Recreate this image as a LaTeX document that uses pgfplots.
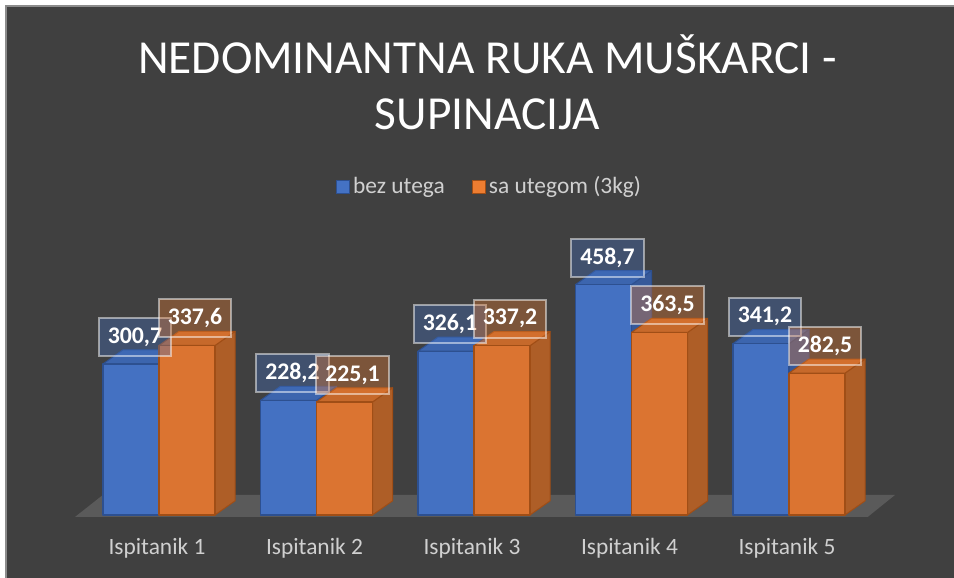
\documentclass[border=0pt]{standalone}
\usepackage{pgfplots}
\usepackage{pgfplotstable}
\pgfplotsset{compat=1.18}
\usepackage{fontspec}
\setmainfont{Carlito}
\definecolor{bg}{HTML}{404040}
\definecolor{framegray}{HTML}{8C8C8C}
\definecolor{floorgray}{HTML}{5A5A5A}
\definecolor{txtgray}{HTML}{D0D0D0}
\definecolor{Bfront}{HTML}{4471C2}
\definecolor{Bside}{HTML}{36599A}
\definecolor{Btop}{HTML}{3C65AE}
\definecolor{Bedge}{HTML}{2D5090}
\definecolor{Ofront}{HTML}{DB7431}
\definecolor{Oside}{HTML}{AE5E27}
\definecolor{Otop}{HTML}{C6692B}
\definecolor{Oedge}{HTML}{A04E16}
\definecolor{Blegend}{HTML}{4472C4}
\definecolor{Olegend}{HTML}{ED7D31}

\pgfplotstableread{
x bez sa
0 300.7 337.6
1 228.2 225.1
2 326.1 337.2
3 458.7 363.5
4 341.2 282.5
}\data

\def\bbw{0.356}
\def\bdx{0.127}
\def\bdy{28}

\newcommand\threedbar[3]{%
  \pgfmathsetmacro\xa{#1}%
  \pgfmathsetmacro\xb{#1+\bbw}%
  \pgfmathsetmacro\xc{#1+\bbw+\bdx}%
  \pgfmathsetmacro\xd{#1+\bdx}%
  \pgfmathsetmacro\vt{#2+\bdy}%
  \edef\doit{%
    \noexpand\addplot[forget plot, fill=#3side, draw=#3edge, line width=0.5pt, line join=round] coordinates {(\xb,0) (\xc,\bdy) (\xc,\vt) (\xb,#2)} -- cycle;
    \noexpand\addplot[forget plot, fill=#3top, draw=#3edge, line width=0.5pt, line join=round] coordinates {(\xa,#2) (\xd,\vt) (\xc,\vt) (\xb,#2)} -- cycle;
    \noexpand\addplot[forget plot, fill=#3front, draw=#3edge, line width=0.6pt, line join=round] coordinates {(\xa,0) (\xb,0) (\xb,#2) (\xa,#2)} -- cycle;
  }\doit
}

\begin{document}
\begin{tikzpicture}
\useasboundingbox (0,0) rectangle (477pt,289pt);
\fill[white] (0,0) rectangle (477pt,289pt);
\fill[bg] (3pt,0) rectangle (477pt,286pt);
\draw[framegray, line width=0.6pt] (3pt,-1pt) -- (3pt,286pt) -- (478pt,286pt);
\node[anchor=base, text=white, font=\fontsize{23.7}{28}\selectfont] at (243.75pt,252pt) {NEDOMINANTNA RUKA MUŠKARCI -};
\node[anchor=base, text=white, font=\fontsize{23.7}{28}\selectfont] at (243.75pt,224pt) {SUPINACIJA};
\begin{axis}[
  at={(32.25pt,21.5pt)}, anchor=south west,
  scale only axis, width=425.25pt, height=135.54pt,
  xmin=-0.6, xmax=4.8, ymin=-40, ymax=500,
  clip=false,
  axis line style={draw=none},
  ytick=\empty,
  xtick={0,1,2,3,4},
  xticklabels={Ispitanik 1,Ispitanik 2,Ispitanik 3,Ispitanik 4,Ispitanik 5},
  major tick length=0pt,
  xticklabel style={anchor=base, yshift=-10pt, xshift=-1pt, text=txtgray, font=\fontsize{11.7}{14}\selectfont},
  legend columns=2,
  legend style={at={(0.5003,1.284)}, anchor=center, draw=none, fill=none,
    text=txtgray, font=\fontsize{11.7}{14}\selectfont,
    nodes={inner xsep=1.5pt},
    /tikz/every even column/.append style={column sep=12pt}},
]
\addplot[forget plot, fill=floorgray, draw=none] coordinates {(-0.533,-4) (4.50,-4) (4.673,39.8) (-0.356,39.8)} -- cycle;

\pgfplotsforeachungrouped \i in {0,...,4}{%
  \pgfplotstablegetelem{\i}{bez}\of\data
  \let\vb\pgfplotsretval
  \pgfmathsetmacro\xl{\i-\bbw}%
  \threedbar{\xl}{\vb}{B}%
}
\pgfplotsforeachungrouped \i in {0,...,4}{%
  \pgfplotstablegetelem{\i}{sa}\of\data
  \let\vb\pgfplotsretval
  \pgfmathsetmacro\xl{\i}%
  \threedbar{\xl}{\vb}{O}%
}

\addplot[forget plot, draw=none, mark=none,
  nodes near coords={\pgfmathprintnumber[fixed,fixed zerofill,precision=1,use comma,assume math mode=true]{\pgfplotspointmeta}},
  point meta=y,
  every node near coord/.style={anchor=south, yshift=3.5pt, xshift=2pt,
    fill=Blegend, fill opacity=0.35, text opacity=1, draw=white, draw opacity=0.5,
    line width=1pt, text=white, inner xsep=4.5pt, inner ysep=2pt, minimum height=19pt,
    font=\bfseries\fontsize{11.9}{14}\selectfont}]
  table[x expr=\thisrow{x}-0.178, y=bez]{\data};
\addplot[forget plot, draw=none, mark=none,
  nodes near coords={\pgfmathprintnumber[fixed,fixed zerofill,precision=1,use comma,assume math mode=true]{\pgfplotspointmeta}},
  point meta=y,
  every node near coord/.style={anchor=south, yshift=3.5pt, xshift=4pt,
    fill=Olegend, fill opacity=0.35, text opacity=1, draw=white, draw opacity=0.5,
    line width=1pt, text=white, inner xsep=4.5pt, inner ysep=2pt, minimum height=19pt,
    font=\bfseries\fontsize{11.9}{14}\selectfont}]
  table[x expr=\thisrow{x}+0.178, y=sa]{\data};

\addlegendimage{legend image code/.code={\draw[fill=Blegend, draw=Bedge, line width=0.7pt] (0pt,-3.2pt) rectangle (6.4pt,3.2pt);}}
\addlegendentry{bez utega}
\addlegendimage{legend image code/.code={\draw[fill=Olegend, draw=Oedge, line width=0.7pt] (0pt,-3.2pt) rectangle (6.4pt,3.2pt);}}
\addlegendentry{sa utegom (3kg)}
\end{axis}
\end{tikzpicture}
\end{document}
